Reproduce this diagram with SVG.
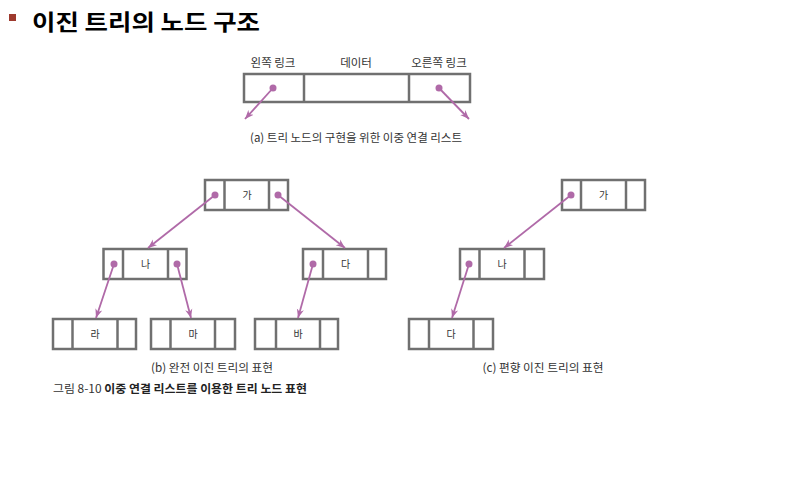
<svg xmlns="http://www.w3.org/2000/svg" width="789" height="500" viewBox="0 0 789 500">
<defs>
<marker id="ah" viewBox="0 0 10 10" refX="10" refY="5" markerWidth="9" markerHeight="9" markerUnits="userSpaceOnUse" orient="auto">
<path d="M0,1 L10,5 L0,9 L3,5 Z" fill="#b06aa8"/>
</marker>
<style>
.box{fill:#fff;stroke:#707070;stroke-width:2.5}
.div{stroke:#707070;stroke-width:2.5}
.lnk{stroke:#b06aa8;stroke-width:1.8;fill:none;marker-end:url(#ah)}
.dot{fill:#b06aa8}
.t{font-family:"Noto Sans CJK KR","Noto Sans",sans-serif;fill:#333;text-anchor:middle}
.nl{font-size:10px}
.cap{font-size:11.5px}
</style>
</defs>
<rect width="789" height="500" fill="#fff"/>
<g id="title">
<rect x="9" y="14" width="7" height="7" fill="#9e3a2e"/>
<text x="32" y="30" font-family="'Noto Sans CJK KR',sans-serif" font-weight="bold" font-size="22" fill="#000" textLength="228" lengthAdjust="spacingAndGlyphs">이진 트리의 노드 구조</text>
</g>
<g id="node-a">
<rect class="box" x="244" y="74" width="226" height="28"/>
<line class="div" x1="304" y1="74" x2="304" y2="102"/>
<line class="div" x1="409" y1="74" x2="409" y2="102"/>
<text class="t cap" x="273" y="67">왼쪽 링크</text>
<text class="t cap" x="356" y="67">데이터</text>
<text class="t cap" x="439" y="67">오른쪽 링크</text>
<text class="t cap" x="356" y="142" textLength="212" lengthAdjust="spacingAndGlyphs">(a) 트리 노드의 구현을 위한 이중 연결 리스트</text>
</g>
<g id="b-ga">
<rect class="box" x="205" y="180" width="83" height="30"/>
<line class="div" x1="224.5" y1="180" x2="224.5" y2="210"/>
<line class="div" x1="269" y1="180" x2="269" y2="210"/>
<text class="t nl" x="247" y="199">가</text>
</g>
<g id="b-na">
<rect class="box" x="103.5" y="249" width="83" height="30"/>
<line class="div" x1="123" y1="249" x2="123" y2="279"/>
<line class="div" x1="168" y1="249" x2="168" y2="279"/>
<text class="t nl" x="145.5" y="268">나</text>
</g>
<g id="b-da">
<rect class="box" x="303" y="249" width="83" height="30"/>
<line class="div" x1="323" y1="249" x2="323" y2="279"/>
<line class="div" x1="368" y1="249" x2="368" y2="279"/>
<text class="t nl" x="345.5" y="268">다</text>
</g>
<g id="b-ra">
<rect class="box" x="53" y="319" width="83" height="30"/>
<line class="div" x1="72.5" y1="319" x2="72.5" y2="349"/>
<line class="div" x1="117.5" y1="319" x2="117.5" y2="349"/>
<text class="t nl" x="95" y="338">라</text>
</g>
<g id="b-ma">
<rect class="box" x="151" y="319" width="84" height="30"/>
<line class="div" x1="170.5" y1="319" x2="170.5" y2="349"/>
<line class="div" x1="215" y1="319" x2="215" y2="349"/>
<text class="t nl" x="193" y="338">마</text>
</g>
<g id="b-ba">
<rect class="box" x="255" y="319" width="83" height="30"/>
<line class="div" x1="276" y1="319" x2="276" y2="349"/>
<line class="div" x1="320" y1="319" x2="320" y2="349"/>
<text class="t nl" x="298" y="338">바</text>
</g>
<g id="c-ga">
<rect class="box" x="562" y="180" width="83" height="30"/>
<line class="div" x1="581" y1="180" x2="581" y2="210"/>
<line class="div" x1="626" y1="180" x2="626" y2="210"/>
<text class="t nl" x="603.5" y="199">가</text>
</g>
<g id="c-na">
<rect class="box" x="460" y="249" width="84" height="30"/>
<line class="div" x1="479.5" y1="249" x2="479.5" y2="279"/>
<line class="div" x1="524.5" y1="249" x2="524.5" y2="279"/>
<text class="t nl" x="502" y="268">나</text>
</g>
<g id="c-da">
<rect class="box" x="409" y="319" width="84" height="30"/>
<line class="div" x1="429" y1="319" x2="429" y2="349"/>
<line class="div" x1="473.5" y1="319" x2="473.5" y2="349"/>
<text class="t nl" x="451" y="338">다</text>
</g>
<g id="connectors">
<circle class="dot" cx="273" cy="88" r="3.5"/>
<line class="lnk" x1="273" y1="88" x2="245" y2="119"/>
<circle class="dot" cx="439" cy="88" r="3.5"/>
<line class="lnk" x1="439" y1="88" x2="469" y2="119"/>
<circle class="dot" cx="215" cy="195" r="3.5"/>
<line class="lnk" x1="215" y1="195" x2="148" y2="248"/>
<circle class="dot" cx="278" cy="195" r="3.5"/>
<line class="lnk" x1="278" y1="195" x2="345" y2="248"/>
<circle class="dot" cx="114" cy="264" r="3.5"/>
<line class="lnk" x1="114" y1="264" x2="96" y2="318"/>
<circle class="dot" cx="177" cy="264" r="3.5"/>
<line class="lnk" x1="177" y1="264" x2="191" y2="318"/>
<circle class="dot" cx="313" cy="264" r="3.5"/>
<line class="lnk" x1="313" y1="264" x2="298" y2="318"/>
<circle class="dot" cx="571" cy="195" r="3.5"/>
<line class="lnk" x1="571" y1="195" x2="504" y2="248"/>
<circle class="dot" cx="469" cy="264" r="3.5"/>
<line class="lnk" x1="469" y1="264" x2="452" y2="318"/>
</g>
<g id="captions">
<text class="t cap" x="212" y="372" textLength="122" lengthAdjust="spacingAndGlyphs">(b) 완전 이진 트리의 표현</text>
<text class="t cap" x="543" y="372" textLength="121" lengthAdjust="spacingAndGlyphs">(c) 편향 이진 트리의 표현</text>
<text x="53" y="393" font-family="'Noto Sans CJK KR',sans-serif" font-size="11.5" fill="#333" textLength="254" lengthAdjust="spacingAndGlyphs">그림 8-10 <tspan font-weight="bold" fill="#222">이중 연결 리스트를 이용한 트리 노드 표현</tspan></text>
</g>
</svg>
